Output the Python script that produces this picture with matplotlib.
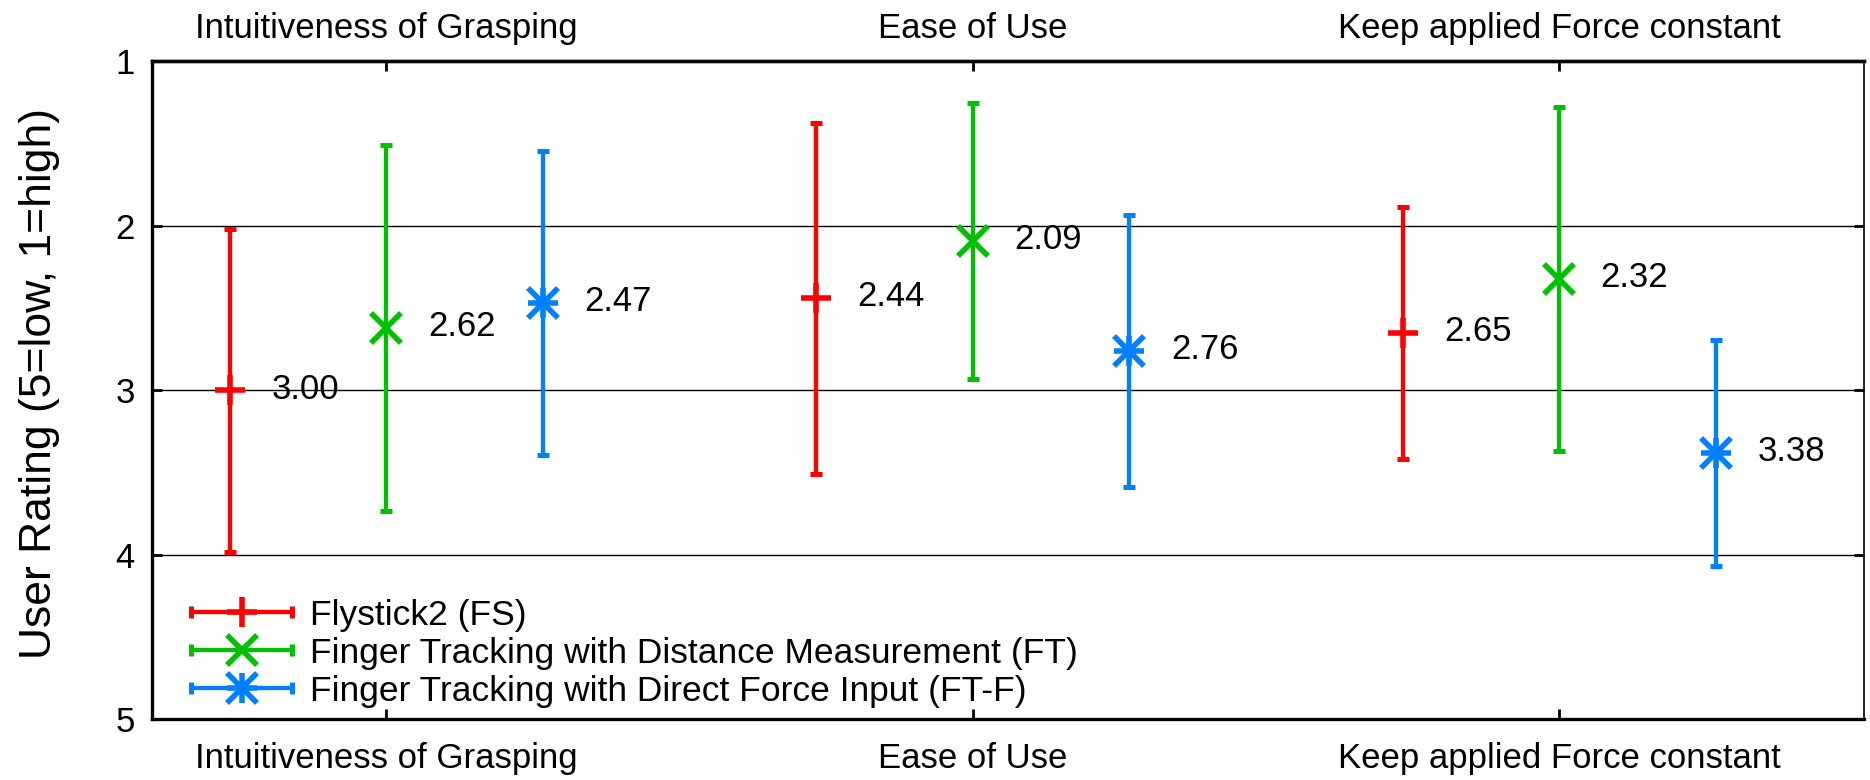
import matplotlib
matplotlib.use("Agg")
import matplotlib.pyplot as plt
from matplotlib.lines import Line2D
from matplotlib.legend_handler import HandlerBase

plt.rcParams['font.family'] = ['Liberation Sans', 'DejaVu Sans']

categories = ["Intuitiveness of Grasping", "Ease of Use", "Keep applied Force constant"]
series = ["Flystick2 (FS)",
          "Finger Tracking with Distance Measurement (FT)",
          "Finger Tracking with Direct Force Input (FT-F)"]

fs_mean = [3.00, 2.44, 2.65]
fs_err = [0.98, 1.065, 0.765]
ft_mean = [2.62, 2.09, 2.32]
ft_err = [1.115, 0.84, 1.045]
ftf_mean = [2.47, 2.76, 3.38]
ftf_err = [0.925, 0.825, 0.685]

means = [fs_mean, ft_mean, ftf_mean]
errs = [fs_err, ft_err, ftf_err]
colors = ["#ff0000", "#00c000", "#0080ff"]
markers = [["+"], ["x"], ["+", "x"]]
offsets = [-0.267, 0.0, 0.267]

ELW = 3.1
CAPS = 8      # full cap length in points
CAPT = 3.6
MS = 21
MEW = 4.0


class ErrKey:
    def __init__(self, color, marks):
        self.color = color
        self.marks = marks


class HandlerErrKey(HandlerBase):
    # gnuplot style key: horizontal bar with caps, marker in the middle
    def create_artists(self, legend, orig_handle, xdescent, ydescent,
                       width, height, fontsize, trans):
        x0, x1 = -xdescent, width - xdescent
        y = height / 2 - ydescent
        c = orig_handle.color
        arts = [Line2D([x0, x1], [y, y], color=c, lw=ELW, solid_capstyle='butt'),
                Line2D([x0, x1], [y, y], ls='none', marker='|', ms=CAPS, mew=CAPT, color=c)]
        for m in orig_handle.marks:
            arts.append(Line2D([(x0 + x1) / 2], [y], ls='none', marker=m,
                               ms=MS, mew=MEW, color=c))
        for a in arts:
            a.set_transform(trans)
        return arts


fig = plt.figure(figsize=(18.7, 7.8), dpi=100)
ax = fig.add_axes([0.0811, 0.0776, 0.9157, 0.8436])

xs = [1, 2, 3]
for i in range(3):
    px = [x + offsets[i] for x in xs]
    # errorbar capsize is half the cap length
    ax.errorbar(px, means[i], yerr=errs[i], fmt='none', ecolor=colors[i],
                elinewidth=ELW, capsize=CAPS / 2, capthick=CAPT, zorder=3)
    for m in markers[i]:
        ax.plot(px, means[i], ls='none', marker=m, ms=MS, mew=MEW,
                color=colors[i], zorder=4)
    for x, v in zip(px, means[i]):
        ax.annotate(f"{v:.2f}", (x, v), xytext=(30, 1), textcoords='offset points',
                    ha='left', va='center', fontsize=25)

ax.set_xlim(0.6, 3.52)
ax.set_ylim(5, 1)
ax.set_xticks(xs, categories)
ax.set_yticks([1, 2, 3, 4, 5])
ax.yaxis.grid(True, color='black', lw=1.0)
ax.set_axisbelow(True)

ax.tick_params(axis='x', direction='in', length=7, width=2, pad=16, labelsize=25)
ax.tick_params(axis='y', direction='in', left=True, right=True,
               length=7, width=2, pad=12, labelsize=25)
for s in ['left', 'top', 'bottom']:
    ax.spines[s].set_linewidth(2.4)
ax.spines['right'].set_linewidth(1.2)

top = ax.secondary_xaxis('top')
top.set_xticks(xs, categories)
top.tick_params(direction='in', length=7, width=2, pad=12, labelsize=25)
top.spines['top'].set_linewidth(2.4)

ax.set_ylabel("User Rating (5=low, 1=high)", fontsize=32)
ax.yaxis.set_label_coords(-0.0536, 0.51)

keys = [ErrKey(colors[i], markers[i]) for i in range(3)]
ax.legend(keys, series, handler_map={ErrKey: HandlerErrKey()},
          loc='lower left', bbox_to_anchor=(0.023, 0.018), frameon=False,
          fontsize=25.5, handlelength=2.85, handletextpad=0.5,
          labelspacing=0.14, borderpad=0, borderaxespad=0)

fig.savefig("out.png", dpi=100)
